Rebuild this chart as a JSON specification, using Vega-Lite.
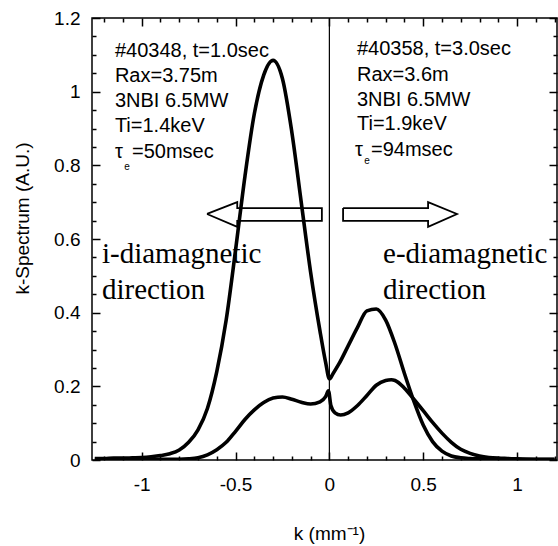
{
  "$schema": "https://vega.github.io/schema/vega-lite/v6.json",
  "autosize": {"type": "none"},
  "padding": {"left": 92, "top": 18, "right": 1, "bottom": 86},
  "width": 465,
  "height": 442,
  "background": "white",
  "config": {
    "view": {"stroke": "black", "strokeWidth": 1.5},
    "font": "Liberation Sans",
    "axis": {
      "domain": false,
      "tickColor": "black",
      "tickWidth": 1.5,
      "grid": false,
      "labelFont": "Liberation Sans",
      "labelFontSize": 19,
      "labelColor": "black",
      "labelFlush": false,
      "labelOverlap": false,
      "titleFont": "Liberation Sans",
      "titleFontSize": 19,
      "titleFontWeight": "normal",
      "titleColor": "black"
    }
  },
  "datasets": {
    "curves": [
      {"shot": "40348", "k": -1.25, "v": 0.004},
      {"shot": "40348", "k": -1.2, "v": 0.004},
      {"shot": "40348", "k": -1.15, "v": 0.005},
      {"shot": "40348", "k": -1.1, "v": 0.005},
      {"shot": "40348", "k": -1.05, "v": 0.006},
      {"shot": "40348", "k": -1.0, "v": 0.007},
      {"shot": "40348", "k": -0.95, "v": 0.009},
      {"shot": "40348", "k": -0.9, "v": 0.012},
      {"shot": "40348", "k": -0.85, "v": 0.017},
      {"shot": "40348", "k": -0.8, "v": 0.027},
      {"shot": "40348", "k": -0.75, "v": 0.048},
      {"shot": "40348", "k": -0.7, "v": 0.082},
      {"shot": "40348", "k": -0.65, "v": 0.14},
      {"shot": "40348", "k": -0.6, "v": 0.24},
      {"shot": "40348", "k": -0.55, "v": 0.38},
      {"shot": "40348", "k": -0.5, "v": 0.57},
      {"shot": "40348", "k": -0.45, "v": 0.77},
      {"shot": "40348", "k": -0.4, "v": 0.94},
      {"shot": "40348", "k": -0.35, "v": 1.045},
      {"shot": "40348", "k": -0.3, "v": 1.085},
      {"shot": "40348", "k": -0.25, "v": 1.035},
      {"shot": "40348", "k": -0.2, "v": 0.89},
      {"shot": "40348", "k": -0.15, "v": 0.70},
      {"shot": "40348", "k": -0.1, "v": 0.51},
      {"shot": "40348", "k": -0.05, "v": 0.35},
      {"shot": "40348", "k": -0.02, "v": 0.265},
      {"shot": "40348", "k": 0.0, "v": 0.22},
      {"shot": "40348", "k": 0.02, "v": 0.235},
      {"shot": "40348", "k": 0.05, "v": 0.26},
      {"shot": "40348", "k": 0.1, "v": 0.31},
      {"shot": "40348", "k": 0.15, "v": 0.36},
      {"shot": "40348", "k": 0.2, "v": 0.405},
      {"shot": "40348", "k": 0.25, "v": 0.41},
      {"shot": "40348", "k": 0.3, "v": 0.38},
      {"shot": "40348", "k": 0.35, "v": 0.315},
      {"shot": "40348", "k": 0.4, "v": 0.235},
      {"shot": "40348", "k": 0.45, "v": 0.16},
      {"shot": "40348", "k": 0.5, "v": 0.095},
      {"shot": "40348", "k": 0.55, "v": 0.05},
      {"shot": "40348", "k": 0.6, "v": 0.024},
      {"shot": "40348", "k": 0.65, "v": 0.011},
      {"shot": "40348", "k": 0.7, "v": 0.006},
      {"shot": "40348", "k": 0.75, "v": 0.004},
      {"shot": "40348", "k": 0.8, "v": 0.003},
      {"shot": "40348", "k": 0.9, "v": 0.002},
      {"shot": "40348", "k": 1.0, "v": 0.002},
      {"shot": "40348", "k": 1.1, "v": 0.001},
      {"shot": "40348", "k": 1.2, "v": 0.001},
      {"shot": "40358", "k": -1.25, "v": 0.002},
      {"shot": "40358", "k": -1.1, "v": 0.002},
      {"shot": "40358", "k": -0.9, "v": 0.002},
      {"shot": "40358", "k": -0.8, "v": 0.002},
      {"shot": "40358", "k": -0.75, "v": 0.003},
      {"shot": "40358", "k": -0.7, "v": 0.006},
      {"shot": "40358", "k": -0.65, "v": 0.014},
      {"shot": "40358", "k": -0.6, "v": 0.028},
      {"shot": "40358", "k": -0.55, "v": 0.048},
      {"shot": "40358", "k": -0.5, "v": 0.078},
      {"shot": "40358", "k": -0.45, "v": 0.11},
      {"shot": "40358", "k": -0.4, "v": 0.136},
      {"shot": "40358", "k": -0.35, "v": 0.156},
      {"shot": "40358", "k": -0.3, "v": 0.168},
      {"shot": "40358", "k": -0.25, "v": 0.171},
      {"shot": "40358", "k": -0.2, "v": 0.165},
      {"shot": "40358", "k": -0.15, "v": 0.157},
      {"shot": "40358", "k": -0.1, "v": 0.152},
      {"shot": "40358", "k": -0.05, "v": 0.158},
      {"shot": "40358", "k": -0.02, "v": 0.172},
      {"shot": "40358", "k": -0.005, "v": 0.188},
      {"shot": "40358", "k": 0.008, "v": 0.148},
      {"shot": "40358", "k": 0.03, "v": 0.128},
      {"shot": "40358", "k": 0.06, "v": 0.122},
      {"shot": "40358", "k": 0.1, "v": 0.128},
      {"shot": "40358", "k": 0.15, "v": 0.148},
      {"shot": "40358", "k": 0.2, "v": 0.175},
      {"shot": "40358", "k": 0.25, "v": 0.203},
      {"shot": "40358", "k": 0.3, "v": 0.216},
      {"shot": "40358", "k": 0.33, "v": 0.218},
      {"shot": "40358", "k": 0.35, "v": 0.216},
      {"shot": "40358", "k": 0.4, "v": 0.195},
      {"shot": "40358", "k": 0.45, "v": 0.165},
      {"shot": "40358", "k": 0.5, "v": 0.134},
      {"shot": "40358", "k": 0.55, "v": 0.102},
      {"shot": "40358", "k": 0.6, "v": 0.073},
      {"shot": "40358", "k": 0.65, "v": 0.048},
      {"shot": "40358", "k": 0.7, "v": 0.029},
      {"shot": "40358", "k": 0.75, "v": 0.018},
      {"shot": "40358", "k": 0.8, "v": 0.011},
      {"shot": "40358", "k": 0.85, "v": 0.007},
      {"shot": "40358", "k": 0.9, "v": 0.005},
      {"shot": "40358", "k": 0.95, "v": 0.004},
      {"shot": "40358", "k": 1.0, "v": 0.003},
      {"shot": "40358", "k": 1.1, "v": 0.002},
      {"shot": "40358", "k": 1.2, "v": 0.002}
    ],
    "arrows": [
      {"dir": "i", "i": 1, "k": -0.652, "v": 0.668},
      {"dir": "i", "i": 2, "k": -0.491, "v": 0.700},
      {"dir": "i", "i": 3, "k": -0.491, "v": 0.684},
      {"dir": "i", "i": 4, "k": -0.040, "v": 0.684},
      {"dir": "i", "i": 5, "k": -0.040, "v": 0.649},
      {"dir": "i", "i": 6, "k": -0.491, "v": 0.649},
      {"dir": "i", "i": 7, "k": -0.491, "v": 0.633},
      {"dir": "i", "i": 8, "k": -0.652, "v": 0.668},
      {"dir": "e", "i": 1, "k": 0.073, "v": 0.684},
      {"dir": "e", "i": 2, "k": 0.526, "v": 0.684},
      {"dir": "e", "i": 3, "k": 0.526, "v": 0.700},
      {"dir": "e", "i": 4, "k": 0.680, "v": 0.668},
      {"dir": "e", "i": 5, "k": 0.526, "v": 0.633},
      {"dir": "e", "i": 6, "k": 0.526, "v": 0.649},
      {"dir": "e", "i": 7, "k": 0.073, "v": 0.649},
      {"dir": "e", "i": 8, "k": 0.073, "v": 0.684}
    ],
    "notes": [
      {"k": -1.143, "v": 1.0941, "label": "#40348, t=1.0sec"},
      {"k": -1.143, "v": 1.0263, "label": "Rax=3.75m"},
      {"k": -1.143, "v": 0.9584, "label": "3NBI 6.5MW"},
      {"k": -1.143, "v": 0.8905, "label": "Ti=1.4keV"},
      {"k": -1.143, "v": 0.8199, "label": "τ"},
      {"k": -1.052, "v": 0.8199, "label": "=50msec"},
      {"k": 0.147, "v": 1.0996, "label": "#40358, t=3.0sec"},
      {"k": 0.147, "v": 1.0290, "label": "Rax=3.6m"},
      {"k": 0.147, "v": 0.9611, "label": "3NBI 6.5MW"},
      {"k": 0.147, "v": 0.8959, "label": "Ti=1.9keV"},
      {"k": 0.136, "v": 0.8253, "label": "τ"},
      {"k": 0.222, "v": 0.8253, "label": "=94msec"}
    ],
    "subs": [
      {"k": -1.093, "v": 0.787, "label": "e"},
      {"k": 0.186, "v": 0.804, "label": "e"}
    ],
    "dirs": [
      {"k": -1.212, "v": 0.5349, "label": "i-diamagnetic"},
      {"k": -1.212, "v": 0.4371, "label": "direction"},
      {"k": 0.286, "v": 0.5349, "label": "e-diamagnetic"},
      {"k": 0.286, "v": 0.4371, "label": "direction"}
    ],
    "frame": [{"k": 0, "v": 0}]
  },
  "resolve": {"axis": {"x": "independent", "y": "independent"}},
  "layer": [
    {
      "data": {"name": "curves"},
      "mark": {"type": "line", "interpolate": "monotone", "strokeWidth": 3.6, "color": "black", "clip": true},
      "encoding": {
        "x": {
          "field": "k", "type": "quantitative",
          "scale": {"domain": [-1.265, 1.213], "nice": false, "zero": false},
          "axis": {
            "orient": "bottom",
            "offset": -8,
            "tickSize": 8,
            "title": "k (mm⁻¹)",
            "titleX": 237,
            "titleY": 87,
            "titleBaseline": "alphabetic",
            "values": [-1, -0.5, 0, 0.5, 1],
            "labelExpr": "round(datum.value*10)/10 + ''",
            "labelPadding": 15,
            "labelBaseline": "top"
          }
        },
        "y": {
          "field": "v", "type": "quantitative",
          "scale": {"domain": [0, 1.2], "nice": false},
          "axis": {
            "orient": "left",
            "offset": -8,
            "tickSize": 8,
            "title": "k-Spectrum (A.U.)",
            "titleX": -72,
            "titleY": 200,
            "titleAngle": -90,
            "titleBaseline": "alphabetic",
            "titleAlign": "center",
            "values": [0, 0.2, 0.4, 0.6, 0.8, 1, 1.2],
            "labelExpr": "round(datum.value*10)/10 + ''",
            "labelPadding": 12
          }
        },
        "detail": {"field": "shot", "type": "nominal"}
      }
    },
    {
      "data": {"name": "frame"},
      "mark": {"type": "point", "opacity": 0},
      "encoding": {
        "x": {"field": "k", "type": "quantitative",
          "axis": {"orient": "bottom", "title": null, "labels": false, "offset": -4, "tickSize": 4,
            "values": [-1.2, -1.1, -0.9, -0.8, -0.7, -0.6, -0.4, -0.3, -0.2, -0.1, 0.1, 0.2, 0.3, 0.4, 0.6, 0.7, 0.8, 0.9, 1.1, 1.2]}},
        "y": {"field": "v", "type": "quantitative",
          "axis": {"orient": "left", "title": null, "labels": false, "offset": -4, "tickSize": 4,
            "values": [0.05, 0.1, 0.15, 0.25, 0.3, 0.35, 0.45, 0.5, 0.55, 0.65, 0.7, 0.75, 0.85, 0.9, 0.95, 1.05, 1.1, 1.15]}}
      }
    },
    {
      "data": {"name": "frame"},
      "mark": {"type": "point", "opacity": 0},
      "encoding": {
        "x": {"field": "k", "type": "quantitative",
          "axis": {"orient": "top", "title": null, "labels": false, "offset": -4, "tickSize": 4,
            "values": [-1.2, -1.1, -0.9, -0.8, -0.7, -0.6, -0.4, -0.3, -0.2, -0.1, 0.1, 0.2, 0.3, 0.4, 0.6, 0.7, 0.8, 0.9, 1.1, 1.2]}},
        "y": {"field": "v", "type": "quantitative",
          "axis": {"orient": "right", "title": null, "labels": false, "offset": -4, "tickSize": 4,
            "values": [0.05, 0.1, 0.15, 0.25, 0.3, 0.35, 0.45, 0.5, 0.55, 0.65, 0.7, 0.75, 0.85, 0.9, 0.95, 1.05, 1.1, 1.15]}}
      }
    },
    {
      "data": {"values": [{"k0": 0}]},
      "mark": {"type": "rule", "color": "black", "strokeWidth": 1.2},
      "encoding": {
        "x": {
          "field": "k0", "type": "quantitative",
          "axis": {"orient": "top", "title": null, "labels": false, "offset": -8, "tickSize": 8, "values": [-1, -0.5, 0, 0.5, 1]}
        },
        "y": {"datum": 0, "type": "quantitative",
          "axis": {"orient": "right", "title": null, "labels": false, "offset": -8, "tickSize": 8, "values": [0, 0.2, 0.4, 0.6, 0.8, 1, 1.2]}
        },
        "y2": {"datum": 1.2}
      }
    },
    {
      "data": {"name": "arrows"},
      "mark": {"type": "line", "color": "black", "strokeWidth": 1.8},
      "encoding": {
        "x": {"field": "k", "type": "quantitative", "axis": null},
        "y": {"field": "v", "type": "quantitative", "axis": null},
        "order": {"field": "i", "type": "quantitative"},
        "detail": {"field": "dir", "type": "nominal"}
      }
    },
    {
      "data": {"name": "notes"},
      "mark": {"type": "text", "align": "left", "baseline": "alphabetic", "font": "Liberation Sans", "fontSize": 20, "color": "black"},
      "encoding": {
        "x": {"field": "k", "type": "quantitative", "axis": null},
        "y": {"field": "v", "type": "quantitative", "axis": null},
        "text": {"field": "label"}
      }
    },
    {
      "data": {"name": "subs"},
      "mark": {"type": "text", "align": "left", "baseline": "alphabetic", "font": "Liberation Sans", "fontSize": 10, "color": "black"},
      "encoding": {
        "x": {"field": "k", "type": "quantitative", "axis": null},
        "y": {"field": "v", "type": "quantitative", "axis": null},
        "text": {"field": "label"}
      }
    },
    {
      "data": {"name": "dirs"},
      "mark": {"type": "text", "align": "left", "baseline": "alphabetic", "font": "Liberation Serif", "fontSize": 29, "color": "black"},
      "encoding": {
        "x": {"field": "k", "type": "quantitative", "axis": null},
        "y": {"field": "v", "type": "quantitative", "axis": null},
        "text": {"field": "label"}
      }
    }
  ]
}
